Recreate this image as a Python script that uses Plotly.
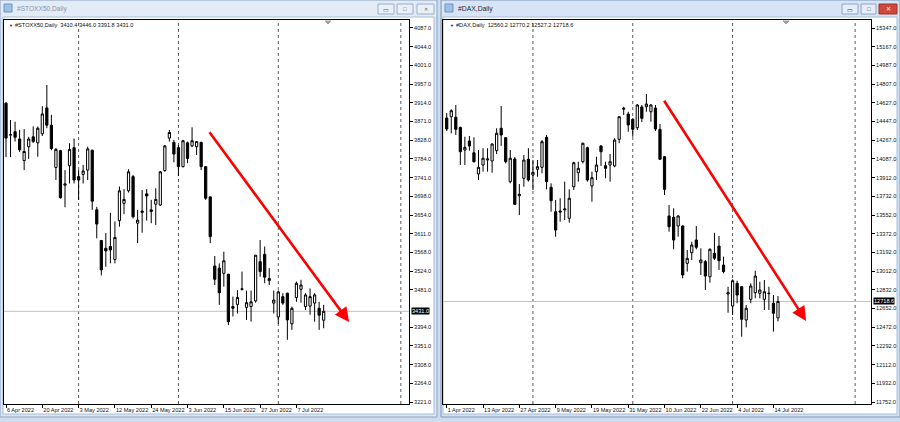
import plotly.graph_objects as go

W, H = 900, 422
def px(x): return x / W
def py(y): return 1 - y / H

# ---------------- data : #STOXX50 Daily ----------------
stoxx_open = [3913,3839,3847,3830,3780,3812,3835,3821,3842,3902,3862,3764,3803,3723,3768,3810,3743,3748,3758,3804,
              3666,3595,3577,3581,3551,3641,3681,3710,3743,3635,3660,3703,3662,3679,3677,3757,3832,3822,3810,3766,
              3821,3814,3812,3822,3766,3696,3536,3531,3519,3517,3442,3447,3483,3440,3442,3455,3546,3563,3502,3450,
              3418,3465,3473,3402,3463,3482,3442,3443,3450,3438,3410.4]
stoxx_high = [3915,3874,3870,3851,3853,3835,3859,3859,3906,3955,3886,3809,3805,3758,3820,3831,3758,3770,3812,3805,
              3673,3596,3612,3659,3639,3720,3714,3760,3747,3666,3712,3714,3689,3716,3756,3816,3851,3828,3816,3828,
              3824,3857,3825,3824,3766,3696,3559,3542,3569,3517,3465,3480,3523,3479,3479,3561,3596,3581,3531,3479,
              3479,3473,3474,3442,3500,3504,3473,3484,3473,3453,3446.0]
stoxx_low = [3788,3788,3824,3800,3758,3784,3821,3789,3837,3855,3804,3735,3692,3672,3727,3727,3689,3727,3735,3666,
             3600,3514,3534,3542,3542,3627,3656,3706,3646,3589,3613,3641,3635,3631,3675,3754,3824,3776,3744,3764,
             3774,3811,3793,3758,3689,3589,3492,3446,3488,3399,3419,3426,3479,3411,3407,3451,3511,3496,3492,3426,
             3402,3446,3365,3388,3453,3451,3434,3423,3407,3388,3391.8]
stoxx_close = [3832,3840,3834,3805,3801,3830,3824,3855,3888,3862,3808,3806,3694,3726,3806,3735,3735,3756,3807,3686,
               3633,3527,3571,3573,3602,3710,3690,3754,3650,3642,3663,3698,3666,3690,3754,3814,3845,3795,3766,3826,
               3785,3826,3824,3766,3693,3604,3505,3474,3548,3407,3438,3463,3482,3451,3453,3561,3523,3510,3507,3457,
               3476,3450,3411,3438,3496,3492,3469,3465,3469,3422,3431.0]
stoxx_dates = ["6 Apr 2022","20 Apr 2022","3 May 2022","12 May 2022","24 May 2022",
               "3 Jun 2022","15 Jun 2022","27 Jun 2022","7 Jul 2022"]
stoxx_ylabels = ["4087.0","4044.0","4001.0","3957.0","3914.0","3871.0","3828.0","3784.0","3741.0","3698.0",
                 "3654.0","3611.0","3568.0","3524.0","3481.0","3394.0","3351.0","3308.0","3264.0","3221.0"]
stoxx_separators = [16, 38, 60, 87]
stoxx_arrow = dict(x0=44.6, y0=3849, x1=75.6, y1=3406)

# ---------------- data : #DAX Daily ----------------
dax_open = [14482,14494,14489,14392,14174,14261,14148,13944,14030,14078,14069,14168,14383,14293,13870,14088,13735,13902,14085,13934,
            13989,14008,14296,13816,13581,13588,13598,13518,13821,13956,14062,14196,13828,13966,14213,14023,14030,14021,14277,14566,
            14520,14469,14388,14588,14590,14542,14578,14373,14110,13540,13527,13444,13444,13085,13187,13309,13091,13101,12956,13181,
            13251,13069,12790,12675,12893,12860,12540,12739,12803,12797,12739,12793,12701,12560.2]
dax_high = [14530,14566,14607,14398,14302,14309,14296,14174,14191,14191,14239,14383,14597,14295,14174,14107,13847,14126,14191,14078,
            14078,14270,14319,13854,13694,13710,13870,13796,14062,14062,14245,14206,13966,14110,14222,14062,14136,14287,14501,14590,
            14542,14479,14616,14607,14713,14616,14607,14424,14115,13646,13614,13549,13450,13213,13293,13444,13229,13117,13229,13379,
            13348,13149,12860,12931,12918,12867,12684,12893,13014,12908,12925,12860,12780,12770.2]
dax_low = [14357,14335,14319,14030,14030,14168,14052,13886,13966,13966,13956,14136,14213,14046,13854,13646,13549,13821,13870,13790,
           13918,13950,13796,13581,13341,13485,13501,13476,13790,13870,14046,13870,13677,13886,14021,13902,13870,14008,14239,14511,
           14350,14302,14366,14443,14542,14446,14357,14078,13742,13389,13220,13341,12941,13005,13117,13220,12973,12829,12899,13117,
           13021,12989,12610,12588,12701,12380,12470,12701,12749,12749,12636,12636,12428,12527.2]
dax_close = [14376,14552,14373,14158,14200,14213,14062,14008,14095,14088,14232,14335,14319,14062,14095,13652,13748,14078,13886,13960,
             14014,14254,13870,13687,13405,13578,13607,13710,14052,13998,14239,13886,13908,14030,14158,13998,14062,14270,14494,14575,
             14415,14373,14607,14479,14616,14607,14376,14085,13796,13437,13309,13540,12973,13133,13261,13239,13117,12963,13220,13133,
             13110,13005,12803,12918,12780,12547,12653,12867,12963,12829,12812,12797,12605,12718.6]
dax_dates = ["1 Apr 2022","13 Apr 2022","27 Apr 2022","9 May 2022","19 May 2022","31 May 2022",
             "10 Jun 2022","22 Jun 2022","4 Jul 2022","14 Jul 2022"]
dax_ylabels = ["15347.0","15167.0","14987.0","14807.0","14627.0","14447.0","14267.0","14087.0","13912.0","13732.0",
               "13552.0","13372.0","13192.0","13012.0","12832.0","12652.0","12472.0","12292.0","12112.0","11932.0","11752.0"]
dax_separators = [19, 41, 63, 90]
dax_arrow = dict(x0=47.7, y0=14662, x1=79.2, y1=12531)

# ---------------- figure ----------------
FONT = "Liberation Sans"
fig = go.Figure()

def candles(o, h, l, c, xa, ya):
    return go.Candlestick(
        x=list(range(len(o))), open=o, high=h, low=l, close=c,
        xaxis=xa, yaxis=ya, whiskerwidth=0,
        increasing=dict(line=dict(color="#000000", width=1), fillcolor="#ffffff"),
        decreasing=dict(line=dict(color="#000000", width=1), fillcolor="#000000"),
        hoverinfo="skip", showlegend=False)

fig.add_trace(candles(stoxx_open, stoxx_high, stoxx_low, stoxx_close, "x", "y"))
fig.add_trace(candles(dax_open, dax_high, dax_low, dax_close, "x2", "y2"))

ydom = [1 - 404 / H, 1 - 20 / H]
tickfont = dict(family=FONT, size=5.6, color="#111111")

def xaxis_cfg(dom, rng, labels, anchor):
    return dict(domain=dom, range=rng, anchor=anchor, rangeslider=dict(visible=False), showgrid=False,
                zeroline=False, showline=True, linecolor="#000000", linewidth=1, mirror=True,
                ticks="outside", ticklen=3, tickcolor="#000000", tickwidth=1, tickangle=0,
                tickvals=list(range(0, 8 * len(labels), 8)), ticktext=labels,
                ticklabelposition="outside right", tickfont=tickfont, fixedrange=True)

def yaxis_cfg(rng, anchor, labels, vals):
    return dict(domain=ydom, range=rng, side="right", anchor=anchor, showgrid=False, zeroline=False,
                showline=True, linecolor="#000000", linewidth=1, mirror=True,
                ticks="outside", ticklen=3, tickcolor="#000000", tickwidth=1,
                tickvals=vals, ticktext=labels, tickfont=tickfont, fixedrange=True)

# tick positions: evenly spaced grid between the first and last printed label (MT4 style)
s_top, s_bot = float(stoxx_ylabels[0]), float(stoxx_ylabels[-1])
stoxx_tv = [s_top - (s_top - s_bot) / 20 * i for i in range(21)]
stoxx_tv = stoxx_tv[:15] + stoxx_tv[16:]          # 3438.0 is hidden behind the bid label
d_top, d_bot = float(dax_ylabels[0]), float(dax_ylabels[-1])
dax_tv = [d_top - (d_top - d_bot) / 20 * i for i in range(21)]

fig.update_layout(
    width=W, height=H, margin=dict(l=0, r=0, t=0, b=0),
    paper_bgcolor="#cfdcee", plot_bgcolor="#ffffff", showlegend=False,
    xaxis=xaxis_cfg([px(4), px(409)], [-0.44, 88.8], stoxx_dates, "y"),
    yaxis=yaxis_cfg([3216.4, 4105.5], "x", stoxx_ylabels, stoxx_tv),
    xaxis2=xaxis_cfg([px(443), px(871)], [-0.82, 93.5], dax_dates, "y2"),
    yaxis2=yaxis_cfg([11732.8, 15423.9], "x2", dax_ylabels, dax_tv),
)

shapes = []
def rect(x0, y0, x1, y1, fill, line=None, lw=0, layer="below"):
    shapes.append(dict(type="rect", xref="paper", yref="paper", x0=px(x0), x1=px(x1), y0=py(y1), y1=py(y0),
                       fillcolor=fill, line=dict(color=line or fill, width=lw), layer=layer))

# window chrome
rect(0, 0, 437, 417, "#dbe6f4", "#8fa6c4", 1)
rect(441, 0, 900, 417, "#d3e1f3", "#7f98bb", 1)
rect(1, 1, 436, 17, "#e2ebf6")
rect(442, 1, 899, 17, "#d6e4f5")
rect(3, 17, 434, 414, "#ffffff", "#a9bdd8", 1)
rect(443, 17, 897, 414, "#ffffff", "#a9bdd8", 1)
# title icons
rect(4, 4, 12, 12, "#9fc0e6", "#6f93c0", 1)
rect(445, 4, 453, 12, "#9fc0e6", "#6f93c0", 1)
# buttons
for (a, b) in [(378, 394), (397, 413), (417, 434)]:
    rect(a, 4, b, 14, "#e9f0f8", "#9aaecb", 1)
for (a, b) in [(842, 858), (861, 876)]:
    rect(a, 4, b, 14, "#e4edf8", "#8ea6c6", 1)
rect(879, 4, 897, 14, "#d2473a", "#9c3028", 1)

# separators and bid lines
for s in stoxx_separators:
    shapes.append(dict(type="line", xref="x", yref="y domain", x0=s, x1=s, y0=0, y1=1,
                       line=dict(color="#5a5a5a", width=1, dash="dot"), layer="below"))
for s in dax_separators:
    shapes.append(dict(type="line", xref="x2", yref="y2 domain", x0=s, x1=s, y0=0, y1=1,
                       line=dict(color="#5a5a5a", width=1, dash="dot"), layer="below"))
shapes.append(dict(type="line", xref="x domain", yref="y", x0=0, x1=1, y0=stoxx_close[-1], y1=stoxx_close[-1],
                   line=dict(color="#c0c0c0", width=1), layer="below"))
shapes.append(dict(type="line", xref="x2 domain", yref="y2", x0=0, x1=1, y0=dax_close[-1], y1=dax_close[-1],
                   line=dict(color="#c0c0c0", width=1), layer="below"))
# chart shift markers
for cx in (328, 786):
    shapes.append(dict(type="path", xref="paper", yref="paper",
                       path=f"M {px(cx-3)} {py(21)} L {px(cx+3)} {py(21)} L {px(cx)} {py(24)} Z",
                       fillcolor="#a0a0a0", line=dict(color="#a0a0a0", width=1)))
fig.update_layout(shapes=shapes)

ann = []
def txt(x, y, s, size=5.6, color="#111111", anchor="left", **kw):
    ann.append(dict(xref="paper", yref="paper", x=px(x), y=py(y), text=s, showarrow=False,
                    xanchor=anchor, yanchor="middle", font=dict(family=FONT, size=size, color=color), **kw))

txt(15, 9, "#STOXX50,Daily", size=6.6, color="#8796ab")
txt(456, 9, "#DAX,Daily", size=6.8, color="#1c2a44")
txt(7, 25, "▼", size=4)
txt(448, 25, "▼", size=4)
hdr = lambda o, h, l, c: f"{o:.1f} {h:.1f} {l:.1f} {c:.1f}"
txt(13, 25, "#STOXX50,Daily  " + hdr(stoxx_open[-1], stoxx_high[-1], stoxx_low[-1], stoxx_close[-1]))
txt(454, 25, "#DAX,Daily  " + hdr(dax_open[-1], dax_high[-1], dax_low[-1], dax_close[-1]))
# button glyphs
txt(386, 10, "▭", size=6, color="#4a5d7a", anchor="center")
txt(405, 9, "□", size=6, color="#4a5d7a", anchor="center")
txt(425.5, 9, "✕", size=5, color="#4a5d7a", anchor="center")
txt(850, 10, "▭", size=6, color="#33466a", anchor="center")
txt(868.5, 9, "□", size=6, color="#33466a", anchor="center")
txt(888, 9, "✕", size=6, color="#ffffff", anchor="center")

# bid price labels
ann.append(dict(xref="x domain", yref="y", x=1.005, y=stoxx_close[-1], text=f"{stoxx_close[-1]:.1f}",
                showarrow=False, xanchor="left", yanchor="middle", bgcolor="#000000", borderpad=0,
                font=dict(family=FONT, size=5.6, color="#ffffff")))
ann.append(dict(xref="x2 domain", yref="y2", x=1.004, y=dax_close[-1], text=f"{dax_close[-1]:.1f}",
                showarrow=False, xanchor="left", yanchor="middle", bgcolor="#000000", borderpad=0,
                font=dict(family=FONT, size=5.6, color="#ffffff")))

# red trend arrows
ann.append(dict(xref="x", yref="y", axref="x", ayref="y", x=stoxx_arrow["x1"], y=stoxx_arrow["y1"],
                ax=stoxx_arrow["x0"], ay=stoxx_arrow["y0"], text="", showarrow=True,
                arrowhead=2, arrowsize=1.1, arrowwidth=2.6, arrowcolor="#ff0000"))
ann.append(dict(xref="x2", yref="y2", axref="x2", ayref="y2", x=dax_arrow["x1"], y=dax_arrow["y1"],
                ax=dax_arrow["x0"], ay=dax_arrow["y0"], text="", showarrow=True,
                arrowhead=2, arrowsize=1.1, arrowwidth=2.6, arrowcolor="#ff0000"))
fig.update_layout(annotations=ann)

fig.write_html("out.html", config={"displayModeBar": False},
               post_script="document.body.style.margin='0px';")
